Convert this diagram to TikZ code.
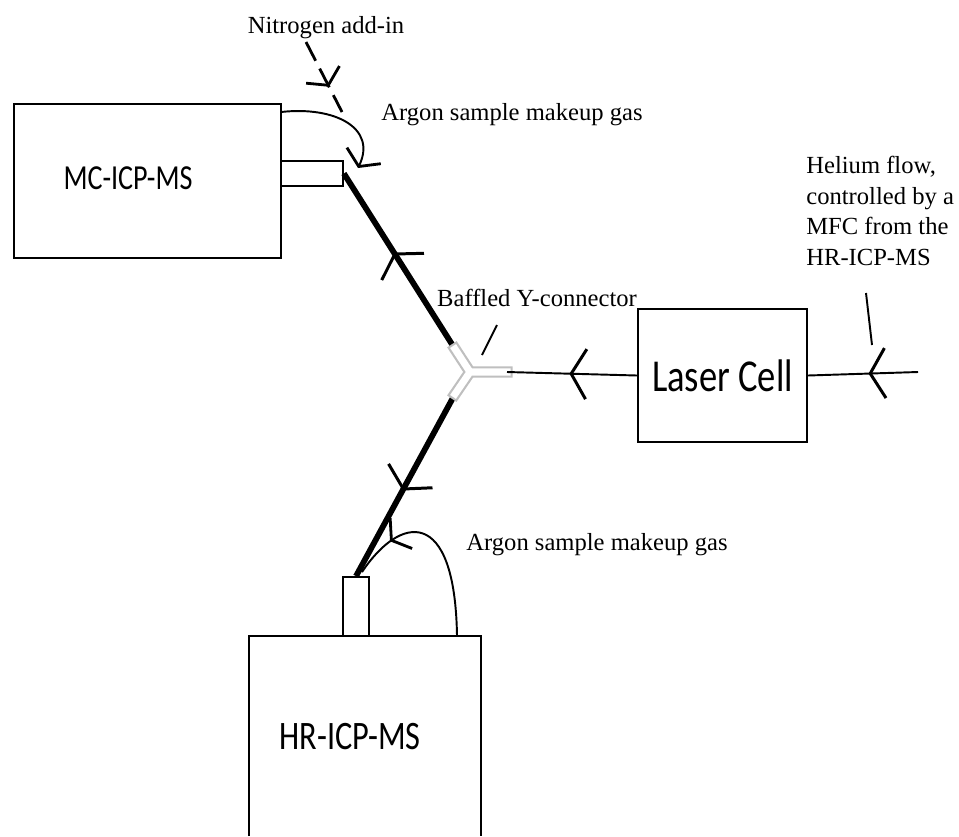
\documentclass[tikz,border=0pt]{standalone}
\usepackage{fontspec}
\setmainfont{Liberation Serif}
\newfontfamily\boxfont[FakeStretch=0.8]{Carlito}
\usetikzlibrary{arrows.meta, decorations.markings}

\begin{document}
\begin{tikzpicture}[x=0.02cm, y=-0.02cm,
    instr/.style={draw, rectangle, line width=1.1pt, inner sep=0},
    port/.style={draw, rectangle, line width=1pt, inner sep=0},
    lbl/.style={font=\fontsize{14}{17.5}\selectfont, inner sep=0},
    boxlbl/.style={font=\boxfont\fontsize{#1}{30}\selectfont, inner sep=0},
    pipe/.style={line width=3.3pt},
    thin/.style={line width=1.1pt},
    chev/.tip={Straight Barb[length=3mm, width=10mm, line width=1.7pt]},
    smallchev/.tip={Straight Barb[length=2.4mm, width=7.5mm, line width=1.6pt]},
    flow/.style={postaction={decorate}, decoration={markings, mark=at position #1 with {\arrow{chev}}}},
    smallflow/.style={postaction={decorate}, decoration={markings, mark=at position #1 with {\arrow{smallchev}}}},
    tube/.style={white, line width=4pt, line cap=rect, preaction={draw, gray!50, line width=6.5pt, line cap=rect}}
]
    \useasboundingbox (0,0) rectangle (959,836);

    % instruments
    \node[instr, minimum width=5.34cm, minimum height=3.08cm] (mc) at (147.5,181) {};
    \node[boxlbl=20] (mctext) at (128,178) {MC-ICP-MS};
    \node[port, minimum width=1.24cm, minimum height=0.5cm] (mcport) at (312,173.5) {};
    \node[instr, minimum width=3.38cm, minimum height=2.66cm, boxlbl=26] (laser) at (722.5,375.5) {Laser Cell};
    \draw[thin] (249,836) -- (249,636) -- (481,636) -- (481,836);
    \node[boxlbl=23] (hrtext) at (350,737) {HR-ICP-MS};
    \node[port, minimum width=0.52cm, minimum height=1.18cm] (hrport) at (356,606.5) {};

    % Y-connector
    \coordinate (yc) at (470,372);
    \coordinate (ya) at (455,349);
    \coordinate (yb) at (507,372);
    \coordinate (yd) at (455,394);

    \draw[pipe, flow=0.55] (ya) -- (mcport.east);
    \draw[pipe, flow=0.53] (yd) -- (hrport.north);
    \draw[tube] (ya) -- (yc) -- (yb) (yc) -- (yd);
    \draw[thin, flow=0.52] (laser.west) -- (yb);

    % helium
    \coordinate (he) at (918,372);
    \draw[thin, flow=0.45] (he) -- (laser.east);

    % nitrogen and argon
    \coordinate (n2s) at (306,42);
    \coordinate (n2e) at (342,112);
    \draw[line width=1.6pt, dash pattern=on 12pt off 5pt, smallflow=0.64] (n2s) -- (n2e);
    \coordinate (ag1) at (281,112);
    \draw[thin, -smallchev] (ag1) .. controls (335,106) and (377,128) .. (358,168);
    \coordinate (ag2) at (457,636);
    \draw[thin, smallflow=0.78] (ag2) .. controls (455,505) and (400,515) .. (362,572);

    % labels
    \node[lbl] (n2) at (326,28) {Nitrogen add-in};
    \node[lbl] (ar1) at (512,115) {Argon sample makeup gas};
    \node[lbl] (ar2) at (597,545) {Argon sample makeup gas};
    \node[lbl] (bafl) at (537,298) {Baffled Y-connector};
    \node[lbl, align=left, anchor=west] (helbl) at (806,211) {Helium flow,\\controlled by a\\MFC from the\\HR-ICP-MS};
    \coordinate (bp1) at (497,325);
    \coordinate (bp2) at (482,355);
    \draw[thin] (bp1) -- (bp2);
    \coordinate (hp1) at (866,293);
    \coordinate (hp2) at (872,345);
    \draw[thin] (hp1) -- (hp2);
\end{tikzpicture}
\end{document}
